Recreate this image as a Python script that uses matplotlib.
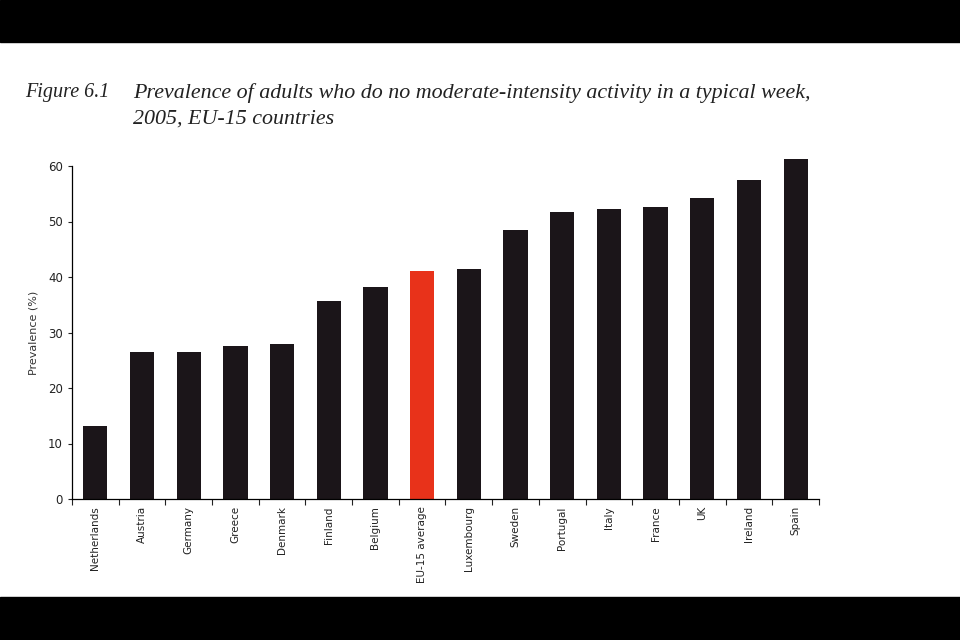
import matplotlib.pyplot as plt
from matplotlib.patches import Rectangle

countries = ["Netherlands", "Austria", "Germany", "Greece", "Denmark", "Finland",
             "Belgium", "EU-15 average", "Luxembourg", "Sweden", "Portugal", "Italy",
             "France", "UK", "Ireland", "Spain"]
prevalence = [13.2, 26.5, 26.5, 27.6, 27.9, 35.7, 38.2, 41.0, 41.4, 48.5, 51.8,
              52.2, 52.6, 54.3, 57.5, 61.2]
highlight = "EU-15 average"

fig = plt.figure(figsize=(9.6, 6.4), dpi=100)
fig.patch.set_facecolor("white")

# black bands of the screenshot
fig.patches.append(Rectangle((0, 1 - 42 / 640), 1, 42 / 640, transform=fig.transFigure,
                             color="black", zorder=0))
fig.patches.append(Rectangle((0, 0), 1, 43 / 640, transform=fig.transFigure,
                             color="black", zorder=0))

ax = fig.add_axes([72 / 960, 1 - 499 / 640, (819 - 72) / 960, (499 - 166) / 640])

colors = ["#e8321a" if c == highlight else "#1b1519" for c in countries]
x = list(range(len(countries)))
bars = ax.bar(x, prevalence, width=0.52, color=colors, zorder=2)
for b in bars:
    b.set_clip_on(False)

ax.set_xlim(-0.5, len(countries) - 0.5)
ax.set_ylim(0, 60)
ax.set_yticks(range(0, 61, 10))
ax.tick_params(axis="y", labelsize=8.5, length=3, width=0.8, colors="#222222")

ax.set_xticks([i - 0.5 for i in range(len(countries) + 1)])
ax.set_xticklabels([])
ax.tick_params(axis="x", length=4, width=0.8, colors="#222222")
for i, c in enumerate(countries):
    ax.text(i, -1.3, c, rotation=90, ha="center", va="top", fontsize=7.5,
            color="#222222")

ax.spines["top"].set_visible(False)
ax.spines["right"].set_visible(False)
ax.spines["left"].set_linewidth(0.9)
ax.spines["bottom"].set_linewidth(0.9)
ax.set_ylabel("Prevalence (%)", fontsize=8, color="#333333", labelpad=7)

tfont = dict(family="Liberation Serif", style="italic", color="#222222")
fig.text(25 / 960, 1 - 93 / 640, "Figure 6.1", va="center", ha="left", fontsize=14.5, **tfont)
fig.text(133 / 960, 1 - 93 / 640,
         "Prevalence of adults who do no moderate-intensity activity in a typical week,",
         va="center", ha="left", fontsize=15.8, **tfont)
fig.text(133 / 960, 1 - 119 / 640, "2005, EU-15 countries", va="center", ha="left",
         fontsize=15.8, **tfont)

fig.savefig("out.png", dpi=100)
